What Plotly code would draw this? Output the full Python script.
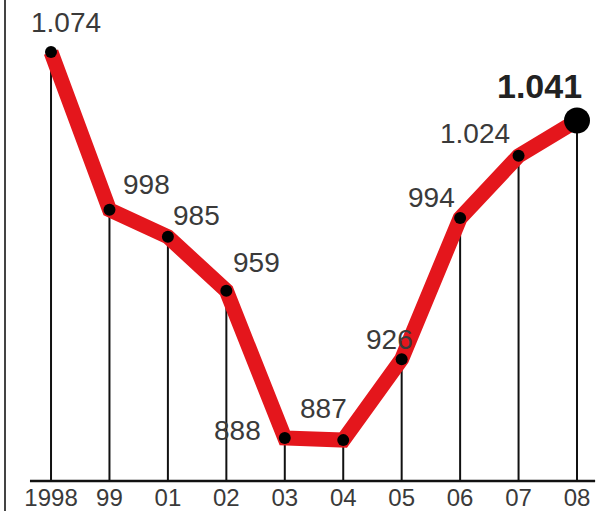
import plotly.graph_objects as go

years = ["1998", "99", "01", "02", "03", "04", "05", "06", "07", "08"]
values = [1074, 998, 985, 959, 888, 887, 926, 994, 1024, 1041]

# label offsets in pixels (text centre relative to its point)
label_dx = [15, 37, 29, 30, -47, -20, -12, -29, -44, -38]
label_dy = [30, 25, 21, 28, 8, 32, 20, 21, 22, 35]

y_base = 867.3
idx = list(range(len(years)))
labels = [f"{v:,}".replace(",", ".") for v in values]
FONT = "Liberation Sans, Arial, sans-serif"

fig = go.Figure()

# drop lines from each point to the baseline
fig.add_trace(go.Scatter(
    x=idx, y=values, mode="markers",
    marker=dict(size=1, color="rgba(0,0,0,0)"),
    error_y=dict(type="data", symmetric=False,
                 array=[0] * len(values),
                 arrayminus=[v - y_base for v in values],
                 thickness=2, width=0, color="#111"),
    hoverinfo="skip", showlegend=False))

# red line
fig.add_trace(go.Scatter(
    x=idx, y=values, mode="lines",
    line=dict(color="#e4161c", width=15),
    showlegend=False))

# dots
sizes = [12] * (len(values) - 1) + [26]
fig.add_trace(go.Scatter(
    x=idx, y=values, mode="markers",
    marker=dict(size=sizes, color="#000000", opacity=1, line=dict(width=0)),
    showlegend=False))

for i, (v, t) in enumerate(zip(values, labels)):
    last = i == len(values) - 1
    fig.add_annotation(
        x=i, y=v, text=f"<b>{t}</b>" if last else t,
        showarrow=False, xanchor="center", yanchor="middle",
        xshift=label_dx[i], yshift=label_dy[i],
        font=dict(size=34 if last else 28, color="#222" if last else "#3a3a3a",
                  family=FONT))

# baseline
fig.add_shape(type="line", xref="x", yref="paper", x0=-0.36, x1=9.31, y0=0, y1=0,
              line=dict(color="#111", width=2.5))
# left border
fig.add_shape(type="line", xref="paper", yref="paper", x0=5/604, x1=5/604, y0=-0.07, y1=1,
              line=dict(color="#444", width=2))

fig.update_layout(
    width=604, height=511,
    margin=dict(l=0, r=0, t=0, b=30, autoexpand=False),
    paper_bgcolor="white", plot_bgcolor="white",
    xaxis=dict(range=[-0.873, 9.462], tickvals=idx, ticktext=years,
               showgrid=False, zeroline=False, showline=False, ticks="",
               tickfont=dict(size=24, color="#3a3a3a", family=FONT),
               automargin=False, fixedrange=True),
    yaxis=dict(range=[y_base, 1099.1], visible=False, automargin=False,
               fixedrange=True),
    showlegend=False,
    hovermode=False,
)

fig.write_html("out.html", config={"displayModeBar": False},
               post_script="document.body.style.margin='0';")
